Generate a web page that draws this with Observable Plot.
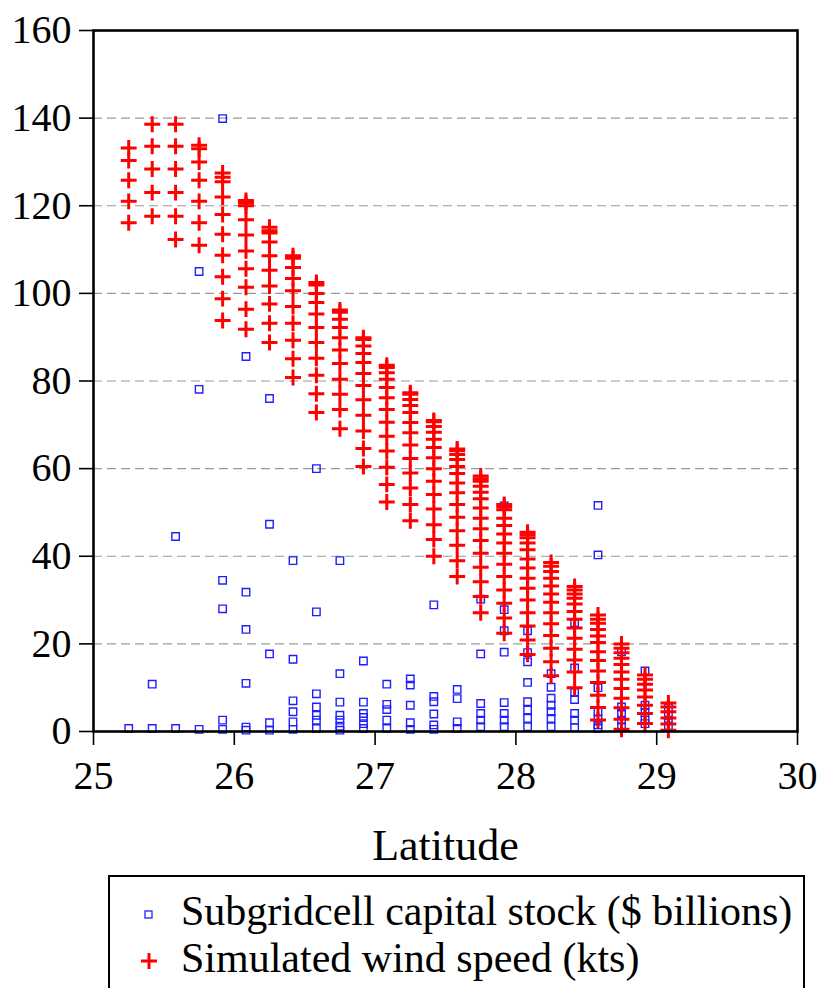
<!DOCTYPE html>
<html>
<head>
<meta charset="utf-8">
<script src="https://cdn.jsdelivr.net/npm/d3@7"></script>
<script src="https://cdn.jsdelivr.net/npm/@observablehq/plot@0.6"></script>
<style>
  html, body { margin: 0; padding: 0; background: #fff; }
  body { width: 818px; height: 988px; position: relative; overflow: hidden; font-family: 'Liberation Serif', serif; }
  #legend { position: absolute; left: 108px; top: 875px; width: 697px; height: 130px; border: 2px solid #000; border-bottom: none; box-sizing: border-box; }
  .item { position: absolute; left: 0; font-size: 42px; line-height: 1; white-space: nowrap; color: #000; }
  .item svg { position: absolute; left: 24px; }
  .item span { position: absolute; left: 71px; }
</style>
</head>
<body>
<div id="chart"></div>
<div id="legend">
  <div class="item" style="top:13px">
    <svg width="30" height="30" style="top:11px"><rect x="11" y="10" width="7" height="7" fill="none" stroke="#1f1fff" stroke-width="1.3"/></svg>
    <span>Subgridcell capital stock ($ billions)</span>
  </div>
  <div class="item" style="top:60px">
    <svg width="30" height="30" style="top:9px"><path d="M7,15H23M15,7V23" stroke="#ff0000" stroke-width="3" fill="none"/></svg>
    <span>Simulated wind speed (kts)</span>
  </div>
</div>
<script>
// Latitude columns (degrees N)
const lats = [25.25, 25.417, 25.583, 25.75, 25.917, 26.083, 26.25, 26.417, 26.583, 26.75, 26.917, 27.083,
              27.25, 27.417, 27.583, 27.75, 27.917, 28.083, 28.25, 28.417, 28.583, 28.75, 28.917, 29.083];

// Simulated wind speed (kts), one list per latitude column
const windByLat = [
  [133.2, 130.3, 125.8, 121.0, 116.1],
  [138.6, 133.6, 128.4, 123.0, 117.6],
  [138.6, 133.6, 128.4, 123.0, 117.6, 112.3],
  [133.8, 133.0, 130.0, 125.8, 121.0, 116.1, 111.0],
  [127.5, 126.5, 125.5, 122.0, 118.0, 113.5, 108.7, 103.8, 98.8, 93.8],
  [121.2, 120.6, 120.0, 116.8, 113.3, 109.7, 105.6, 101.4, 96.4, 91.8],
  [115.1, 114.3, 113.8, 111.7, 108.6, 105.3, 101.7, 97.6, 93.2, 88.8],
  [108.6, 108.0, 105.9, 103.4, 100.6, 97.0, 93.2, 89.3, 85.1, 80.8],
  [102.5, 101.9, 100.0, 97.9, 95.3, 92.2, 88.8, 85.2, 81.3, 77.1, 72.8],
  [96.2, 95.7, 94.1, 92.2, 89.9, 87.1, 84.0, 80.4, 77.0, 73.5, 69.1],
  [89.9, 89.5, 88.0, 86.3, 84.2, 81.7, 79.0, 75.7, 72.2, 68.6, 64.6, 60.5],
  [83.6, 83.1, 81.9, 80.4, 78.5, 76.2, 73.5, 70.6, 67.4, 64.0, 60.3, 56.4, 52.4],
  [77.3, 77.0, 75.8, 74.4, 72.8, 70.5, 68.2, 65.4, 62.3, 59.0, 55.6, 51.8, 48.1],
  [71.0, 70.7, 69.6, 68.3, 66.7, 64.8, 62.5, 60.0, 57.1, 54.1, 50.8, 47.2, 43.8, 40.0],
  [64.5, 64.1, 63.2, 62.1, 60.5, 58.9, 56.7, 54.5, 51.8, 48.9, 45.8, 42.5, 39.0, 35.4],
  [58.3, 57.7, 57.1, 56.0, 54.6, 53.1, 51.0, 48.7, 46.3, 43.6, 40.7, 37.5, 34.2, 30.8, 27.1],
  [51.8, 51.3, 50.6, 48.7, 47.0, 45.1, 43.0, 40.7, 38.2, 35.4, 32.3, 29.3, 25.9, 22.4],
  [45.5, 44.9, 44.2, 43.0, 41.5, 39.4, 37.3, 35.0, 32.7, 30.0, 27.1, 24.1, 20.9, 17.6],
  [38.6, 37.7, 36.5, 35.0, 33.2, 31.4, 29.5, 27.1, 24.6, 21.9, 19.0, 15.9, 12.7],
  [33.1, 32.3, 31.4, 30.4, 29.1, 27.4, 25.6, 23.6, 21.3, 18.8, 16.3, 13.6, 10.0],
  [26.6, 25.6, 24.7, 23.3, 21.8, 20.3, 18.2, 16.2, 13.8, 11.2, 8.3, 5.5, 2.6],
  [20.0, 19.0, 18.0, 16.7, 15.3, 13.6, 11.9, 9.8, 7.6, 5.4, 2.8, 0.5],
  [12.9, 11.9, 10.8, 9.5, 7.9, 6.0, 4.1, 1.8],
  [6.5, 5.6, 4.5, 3.1, 1.7, 0.3]
];

// Subgridcell capital stock ($ billions), one list per latitude column
const capitalByLat = [
  [0.7],
  [10.8, 0.7],
  [44.5, 0.7],
  [105.0, 78.1, 0.5],
  [139.9, 34.5, 28.0, 2.6, 0.5],
  [85.6, 31.8, 23.3, 11.0, 1.0, 0.3],
  [76.0, 47.3, 17.7, 2.0, 0.3],
  [39.0, 16.5, 7.0, 4.5, 2.2, 0.5],
  [60.0, 27.3, 8.6, 5.6, 3.7, 2.6, 0.7],
  [39.0, 13.2, 6.7, 3.7, 2.6, 1.2, 0.3],
  [16.1, 6.7, 4.1, 3.2, 1.8, 0.7],
  [10.8, 6.2, 5.0, 2.6, 0.7],
  [12.0, 10.6, 6.0, 2.0, 0.5],
  [28.9, 8.0, 6.8, 4.0, 1.5, 0.5],
  [9.6, 7.5, 2.2, 0.7],
  [30.2, 17.7, 6.4, 4.1, 2.6, 1.1],
  [51.5, 27.8, 23.0, 18.1, 6.6, 4.1, 2.6, 1.1],
  [23.0, 18.0, 15.9, 11.2, 6.8, 4.9, 3.0, 1.1],
  [13.2, 10.1, 7.6, 6.0, 4.5, 3.0, 1.1],
  [24.8, 14.5, 8.9, 7.3, 4.1, 2.6, 0.9],
  [51.6, 40.3, 10.0, 4.5, 2.8, 1.5, 0.7],
  [18.2, 5.6, 4.1, 2.6, 1.1],
  [13.8, 6.0, 4.3, 2.6, 1.8],
  [5.4, 3.7, 2.6, 1.3]
];

const xTicks = [25, 26, 27, 28, 29, 30];
const yTicks = [0, 20, 40, 60, 80, 100, 120, 140, 160];
const gridVals = [20, 40, 60, 80, 100, 120, 140];
const xLabel = "Latitude";

const windRows = lats.flatMap((lat, i) => windByLat[i].map(v => ({lat, v})));
const capRows = lats.flatMap((lat, i) => capitalByLat[i].map(v => ({lat, v})));

const chart = Plot.plot({
  width: 818,
  height: 875,
  marginLeft: 93,
  marginRight: 21,
  marginTop: 30,
  marginBottom: 144,
  x: {domain: [25, 30], ticks: xTicks, tickFormat: d3.format("d")},
  y: {domain: [0, 160], ticks: yTicks, tickFormat: d3.format("d")},
  style: {fontFamily: "'Liberation Serif', serif", fontSize: "40px", color: "#000", background: "#fff", overflow: "visible"},
  marks: [
    Plot.ruleY(gridVals, {stroke: "#999", strokeDasharray: "9,5", strokeWidth: 1.2}),
    Plot.dot(capRows, {x: "lat", y: "v", symbol: "square", r: 4.2, stroke: "#1f1fff", fill: "none", strokeWidth: 1.4}),
    Plot.dot(windRows, {x: "lat", y: "v", symbol: "plus", r: 5.2, stroke: "#ff0000", strokeWidth: 3}),
    Plot.frame({stroke: "#000", strokeWidth: 2.6}),
    Plot.axisX({ticks: xTicks, tickFormat: d3.format("d"), tickSize: 14, tickPadding: 15, label: null, strokeWidth: 1.6}),
    Plot.axisY({ticks: yTicks, tickFormat: d3.format("d"), tickSize: 14, tickPadding: 8, label: null, strokeWidth: 1.6}),
    Plot.text([xLabel], {text: d => d, frameAnchor: "bottom", dy: 128, fontSize: 44})
  ]
});
document.getElementById("chart").appendChild(chart);
</script>
</body>
</html>
